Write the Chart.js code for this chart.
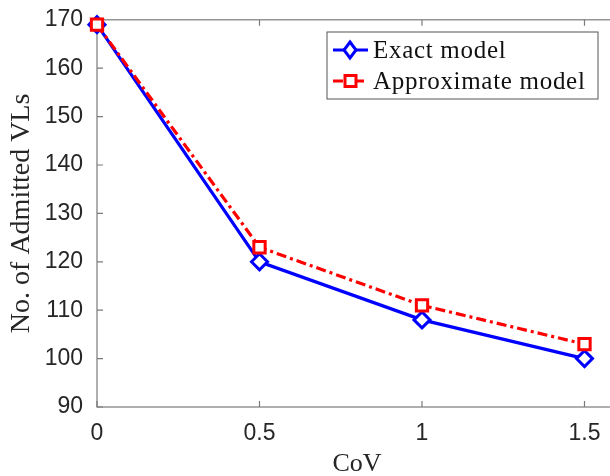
<!DOCTYPE html>
<html>
<head>
<meta charset="utf-8">
<script src="https://cdn.jsdelivr.net/npm/chart.js@4/dist/chart.umd.min.js"></script>
<style>
  body { margin: 0; overflow: hidden; background: #fff; }
  #wrap { width: 630px; height: 476px; }
</style>
</head>
<body>
<div id="wrap"><canvas id="my-chart" width="630" height="476"></canvas></div>
<script>
const covValues = [0, 0.5, 1, 1.5];
const exactModel = [169, 120, 108, 100];
const approxModel = [169, 123, 111, 103];
const xTicks = [0, 0.5, 1, 1.5];
const yTicks = [90, 100, 110, 120, 130, 140, 150, 160, 170];

const axisColor = '#7a7a7a';
const serif = '"Liberation Serif", "DejaVu Serif", serif';
const sans = '"Liberation Sans", Arial, sans-serif';

// box round the plot with inward ticks, like matlab
const boxPlugin = {
  id: 'box',
  beforeDatasetsDraw(chart) {
    const ctx = chart.ctx;
    const a = chart.chartArea;
    const xs = chart.scales.x, ys = chart.scales.y;
    ctx.save();
    ctx.strokeStyle = axisColor;
    ctx.lineWidth = 1.2;
    ctx.strokeRect(a.left, a.top, a.right - a.left, a.bottom - a.top);
    ctx.beginPath();
    xTicks.forEach(v => {
      const px = xs.getPixelForValue(v);
      ctx.moveTo(px, a.bottom); ctx.lineTo(px, a.bottom - 6);
      ctx.moveTo(px, a.top); ctx.lineTo(px, a.top + 6);
    });
    yTicks.forEach(v => {
      const py = ys.getPixelForValue(v);
      ctx.moveTo(a.left, py); ctx.lineTo(a.left + 6, py);
      ctx.moveTo(a.right, py); ctx.lineTo(a.right - 6, py);
    });
    ctx.stroke();
    ctx.restore();
  }
};

const legendPlugin = {
  id: 'boxLegend',
  afterDraw(chart) {
    const ctx = chart.ctx;
    const x0 = 327, y0 = 32, w = 271, h = 67;
    ctx.save();
    ctx.fillStyle = '#fff';
    ctx.fillRect(x0, y0, w, h);
    ctx.strokeStyle = '#555';
    ctx.lineWidth = 1;
    ctx.strokeRect(x0, y0, w, h);
    ctx.font = '25px ' + serif;
    ctx.letterSpacing = '0.7px';
    ctx.textBaseline = 'middle';
    chart.data.datasets.forEach((ds, i) => {
      const cy = y0 + 18 + i * 31;
      ctx.strokeStyle = ds.borderColor;
      ctx.lineWidth = 3;
      ctx.setLineDash(ds.borderDash || []);
      ctx.beginPath();
      ctx.moveTo(x0 + 6, cy); ctx.lineTo(x0 + 41, cy);
      ctx.stroke();
      ctx.setLineDash([]);
      ctx.fillStyle = '#fff';
      ctx.lineWidth = 3;
      if (ds.pointStyle === 'rectRot') {
        ctx.beginPath();
        ctx.moveTo(x0 + 23, cy - 8); ctx.lineTo(x0 + 29, cy);
        ctx.lineTo(x0 + 23, cy + 8); ctx.lineTo(x0 + 17, cy);
        ctx.closePath(); ctx.fill(); ctx.stroke();
      } else {
        ctx.fillRect(x0 + 18, cy - 5.5, 11, 11);
        ctx.strokeRect(x0 + 18, cy - 5.5, 11, 11);
      }
      ctx.fillStyle = '#111';
      ctx.fillText(ds.label, x0 + 46, cy + 1);
    });
    ctx.restore();
  }
};

const ctx = document.getElementById('my-chart').getContext('2d');
const chart = new Chart(ctx, {
  type: 'line',
  data: {
    datasets: [
      {
        label: 'Exact model',
        data: covValues.map((c, i) => ({ x: c, y: exactModel[i] })),
        borderColor: '#0000ff',
        backgroundColor: '#ffffff',
        borderWidth: 3.2,
        pointStyle: 'rectRot',
        pointRadius: 8,
        pointBorderWidth: 3,
        pointBackgroundColor: '#ffffff',
        tension: 0,
        clip: false,
        order: 2
      },
      {
        label: 'Approximate model',
        data: covValues.map((c, i) => ({ x: c, y: approxModel[i] })),
        borderColor: '#ff0000',
        backgroundColor: '#ffffff',
        borderWidth: 3.2,
        borderDash: [10, 4, 3, 4],
        pointStyle: 'rect',
        pointRadius: 8,
        pointBorderWidth: 3,
        pointBackgroundColor: '#ffffff',
        tension: 0,
        clip: false,
        order: 1
      }
    ]
  },
  options: {
    responsive: false,
    animation: false,
    layout: { padding: { top: 3, right: 13, left: 0, bottom: 0 } },
    plugins: { legend: { display: false }, tooltip: { enabled: false } },
    scales: {
      x: {
        type: 'linear',
        min: 0,
        max: 1.6,
        grid: { display: false },
        border: { display: false },
        afterBuildTicks: s => { s.ticks = xTicks.map(v => ({ value: v })); },
        afterFit: s => { s.height = 69; },
        ticks: {
          padding: 5,
          color: '#262626',
          font: { family: sans, size: 23 },
          callback: v => String(v)
        },
        title: {
          display: true,
          text: 'CoV',
          color: '#262626',
          font: { family: serif, size: 26 },
          padding: { top: 0, bottom: -4 }
        }
      },
      y: {
        min: 90,
        max: 170,
        grid: { display: false },
        border: { display: false },
        afterBuildTicks: s => { s.ticks = yTicks.map(v => ({ value: v })); },
        afterFit: s => { s.width = 97; },
        ticks: {
          padding: 6,
          color: '#262626',
          font: { family: sans, size: 23 },
          callback: v => String(v)
        },
        title: {
          display: true,
          text: 'No. of Admitted VLs',
          color: '#262626',
          font: { family: serif, size: 28 },
          padding: { top: 5, bottom: 0 }
        }
      }
    }
  },
  plugins: [boxPlugin, legendPlugin]
});
</script>
</body>
</html>
